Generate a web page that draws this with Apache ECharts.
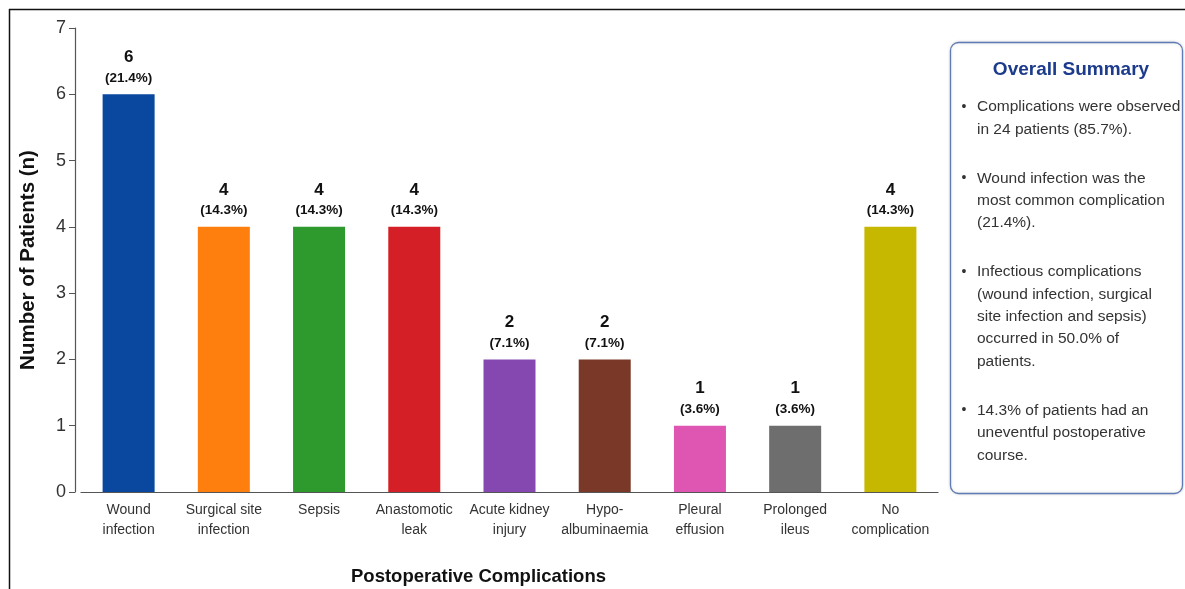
<!DOCTYPE html>
<html><head><meta charset="utf-8">
<script src="https://cdn.jsdelivr.net/npm/echarts@6/dist/echarts.min.js"></script>
<style>html,body{margin:0;padding:0;background:#fff}#c{width:1185px;height:589px}</style>
</head><body><div id="c"></div>
<script>
const categories = ['Wound\ninfection','Surgical site\ninfection','Sepsis','Anastomotic\nleak','Acute kidney\ninjury','Hypo-\nalbuminaemia','Pleural\neffusion','Prolonged\nileus','No\ncomplication'];
const counts = [6,4,4,4,2,2,1,1,4];
const percents = ['21.4','14.3','14.3','14.3','7.1','7.1','3.6','3.6','14.3'];
const barColors = ['#0a48a0','#ff7f0e','#2e9a2e','#d41f26','#8448b0','#7a3828','#df56b2','#6e6e6e','#c6b800'];
const yTicks = [0,1,2,3,4,5,6,7];
const summaryTitle = 'Overall Summary';
const summaryBullets = [
  ['Complications were observed','in 24 patients (85.7%).'],
  ['Wound infection was the','most common complication','(21.4%).'],
  ['Infectious complications','(wound infection, surgical','site infection and sepsis)','occurred in 50.0% of','patients.'],
  ['14.3% of patients had an','uneventful postoperative','course.']
];

const chart = echarts.init(document.getElementById('c'));
const font = 'Liberation Sans, Arial, sans-serif';

const graphics = [
  {type:'line', shape:{x1:9,y1:9.5,x2:1185,y2:9.5}, style:{stroke:'#111',lineWidth:1.5}},
  {type:'line', shape:{x1:9.5,y1:9,x2:9.5,y2:589}, style:{stroke:'#111',lineWidth:1.5}},
  {type:'rect', shape:{x:950.5,y:42.5,width:232,height:451,r:8}, style:{fill:'#fff',stroke:'#5f7bb5',lineWidth:1.3,shadowBlur:3,shadowColor:'rgba(0,0,0,0.15)'}},
  {type:'text', x:1071, y:70, style:{text:summaryTitle, font:'bold 19px '+font, fill:'#1c3b8c', align:'center', verticalAlign:'middle'}}
];
let yy = 107;
const lh = 22.4;
summaryBullets.forEach(b => {
  graphics.push({type:'text', x:964, y:yy, style:{text:'•', font:'14px '+font, fill:'#333', align:'center', verticalAlign:'middle'}});
  b.forEach((line,i) => {
    graphics.push({type:'text', x:977, y:yy + i*lh, style:{text:line, font:'15.5px '+font, fill:'#333', verticalAlign:'middle'}});
  });
  yy += b.length*lh + 26.5;
});

chart.setOption({
  animation:false,
  backgroundColor:'#fff',
  grid:{left:81, right:247, top:28, bottom:97, containLabel:false, outerBoundsMode:'none'},
  xAxis:{
    type:'category', data:categories,
    axisLine:{lineStyle:{color:'#555',width:1.2}},
    axisTick:{alignWithLabel:true, length:5, lineStyle:{color:'#555'}},
    axisLabel:{interval:0, color:'#333', fontSize:14, fontFamily:font, lineHeight:20, margin:8},
    name:'Postoperative Complications', nameLocation:'middle', nameGap:75,
    nameTextStyle:{fontSize:18.5, fontWeight:'bold', color:'#111', fontFamily:font, padding:[0,62,0,0]}
  },
  yAxis:{
    type:'value', min:0, max:7, interval:1, offset:6,
    axisLine:{show:true, lineStyle:{color:'#555',width:1.2}},
    axisTick:{show:true, length:6, lineStyle:{color:'#555'}},
    splitLine:{show:false},
    axisLabel:{color:'#333', fontSize:18, fontFamily:font, margin:9, formatter: v => yTicks.includes(v) ? String(v) : ''},
    name:'Number of Patients (n)', nameLocation:'middle', nameGap:36,
    nameTextStyle:{fontSize:20.5, fontWeight:'bold', color:'#111', fontFamily:font}
  },
  series:[{
    type:'bar',
    barWidth:52,
    data: counts.map((v,i)=>({value:v, itemStyle:{color:barColors[i]}})),
    label:{
      show:true, position:'top', distance:8,
      formatter: p => '{a|' + p.value + '}\n{b|(' + percents[p.dataIndex] + '%)}',
      rich:{
        a:{fontSize:17, fontWeight:'bold', color:'#111', fontFamily:font, lineHeight:24},
        b:{fontSize:13.5, fontWeight:'bold', color:'#111', fontFamily:font, lineHeight:17}
      }
    }
  }],
  graphic: graphics
});
</script></body></html>
